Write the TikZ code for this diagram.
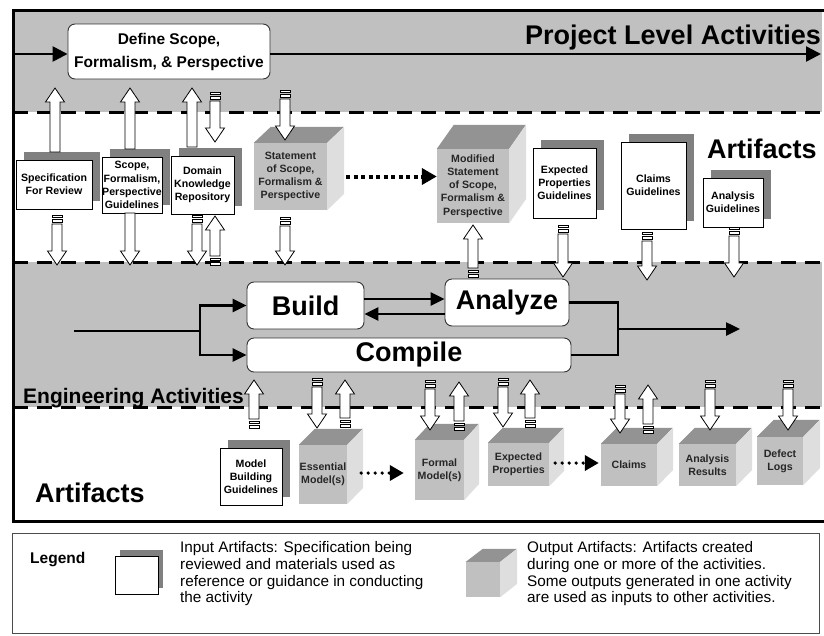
\documentclass[tikz,border=0pt]{standalone}
\usepackage{fontspec}
\setmainfont{Liberation Sans}
\usetikzlibrary{arrows.meta,shadows,calc}
\definecolor{bandgray}{HTML}{C0C0C0}
\definecolor{cubefront}{HTML}{C0C0C0}
\definecolor{cubetop}{HTML}{939393}
\definecolor{cubeside}{HTML}{DEDEDE}
\definecolor{shadowgray}{HTML}{808080}
\newcommand{\artfont}{\fontsize{10.6}{13.2}\selectfont\bfseries}
\newcommand{\bigboldfont}{\fontsize{27}{30}\selectfont\bfseries}
\newcommand{\legfont}{\fontsize{15.3}{16.7}\selectfont}
% cube: name, x1, y1, x2, y2, dx, dy, text
\newcommand{\cubebox}[8]{%
  \node[cubeface, minimum width={(#4-#2)*1pt}, minimum height={(#5-#3)*1pt}] (#1) at ({(#2+#4)/2},{(#3+#5)/2}) {#8};
  \fill[cubetop] (#1.north west) -- ++(#6,-#7) -- ++({#4-#2},0) -- (#1.north east) -- cycle;
  \fill[cubeside] (#1.north east) -- ++(#6,-#7) -- ++(0,{#5-#3}) -- (#1.south east) -- cycle;
}
% input box: name, x1, y1, x2, y2, text, style
\newcommand{\inputbox}[7]{%
  \node[#7, minimum width={(#4-#2)*1pt}, minimum height={(#5-#3)*1pt}] (#1) at ({(#2+#4)/2},{(#3+#5)/2}) {#6};
}
% hollow block arrow: x, tail y, tip y
\newcommand{\barr}[3]{%
  \pgfmathsetmacro{\bsg}{((#3)>(#2))?1:-1}%
  \pgfmathsetmacro{\bhd}{(#3)-14*\bsg}%
  \filldraw[blockarrow] ({#1-5},{#2}) -- ({#1-5},{\bhd}) -- ({#1-9.5},{\bhd}) -- ({#1},{#3}) -- ({#1+9.5},{\bhd}) -- ({#1+5},{\bhd}) -- ({#1+5},{#2}) -- cycle;
}
% striped-tail block arrow: x, tail y, tip y
\newcommand{\sarr}[3]{%
  \pgfmathsetmacro{\ssg}{((#3)>(#2))?1:-1}%
  \filldraw[blockarrow] ({#1-5},{#2}) rectangle ({#1+5},{#2+2.5*\ssg});
  \filldraw[blockarrow] ({#1-5},{#2+4.5*\ssg}) rectangle ({#1+5},{#2+7*\ssg});
  \pgfmathsetmacro{\stl}{#2+9*\ssg}%
  \barr{#1}{\stl}{#3}
}
\tikzset{
  frameline/.style={line width=3pt, line join=miter},
  sepline/.style={line width=3pt, dash pattern=on 15pt off 9pt},
  rbox/.style={draw=black!80, fill=white, rounded corners=7pt, line width=0.9pt, inner sep=0pt, align=center},
  inboxbase/.style={draw=black, fill=white, line width=0.9pt, inner sep=0pt, align=center, font=\artfont},
  inbox/.style={inboxbase, drop shadow={shadow xshift=7.5pt, shadow yshift=8.5pt, fill=shadowgray, opacity=1}},
  inboxsmall/.style={inboxbase, drop shadow={shadow xshift=5pt, shadow yshift=6pt, fill=shadowgray, opacity=1}},
  cubeface/.style={fill=cubefront, inner sep=0pt, align=center, font=\artfont, text=black!85},
  blockarrow/.style={draw=black, fill=white, line width=0.8pt, line join=miter},
  conn/.style={line width=2.5pt, -{Triangle[length=14pt,width=13pt]}},
  plainline/.style={line width=2.5pt},
  sqdots/.style={line width=4pt, dash pattern=on 4pt off 3.5pt, -{Triangle[length=15pt,width=16pt]}},
  rddots/.style={line width=3.6pt, line cap=round, dash pattern=on 0pt off 7pt, -{Triangle[length=14pt,width=15pt]}},
  label/.style={inner sep=0pt, anchor=base west},
  legtext/.style={inner sep=0pt, anchor=north west, align=left, font=\legfont},
}
\begin{document}
\begin{tikzpicture}[x=1pt,y=-1pt]
\useasboundingbox (0,0) rectangle (824,635);
% bands
\fill[bandgray] (13,10) rectangle (822,112);
\fill[bandgray] (13,262) rectangle (822,407);
\draw[sepline] (13,112) -- (822,112);
\draw[sepline] (13,262) -- (822,262);
\draw[sepline] (13,407) -- (822,407);
\draw[frameline] (824,10) -- (13,10) -- (13,521) -- (824,521);
% legend frame
\draw[draw=black!70, line width=0.9pt] (12,533) rectangle (819,633);

% project level
\node[rbox, minimum width=202pt, minimum height=55pt, font=\fontsize{15.5}{23}\selectfont\bfseries] (define) at (169,51.5) {Define Scope,\\Formalism, \& Perspective};
\coordinate (pin) at (13,54);
\coordinate (pout) at (821,54);
\draw[conn, -{Triangle[length=15pt,width=15pt]}] (pin) -- (pin -| define.west);
\draw[conn, -{Triangle[length=15pt,width=15pt]}] (define.east |- pout) -- (pout);

% upper artifacts
\inputbox{spec}{16}{160}{92}{209}{Specification\\For Review}{inbox}
\inputbox{scopeg}{102}{157}{162}{213}{Scope,\\Formalism,\\Perspective\\Guidelines}{inbox}
\inputbox{domain}{171}{156}{234}{214}{Domain\\Knowledge\\Repository}{inbox}
\inputbox{expg}{533}{148}{596}{218}{Expected\\Properties\\Guidelines}{inbox}
\inputbox{claimsg}{621}{142}{686}{229}{Claims\\Guidelines}{inbox}
\inputbox{analysisg}{703}{178}{763}{227}{Analysis\\Guidelines}{inbox}
\cubebox{stmt}{254}{143}{327}{210}{17}{16}{Statement\\of Scope,\\Formalism \&\\Perspective}
\cubebox{mod}{437}{149}{509}{223}{17}{24}{Modified\\Statement\\of Scope,\\Formalism \&\\Perspective}
\draw[sqdots] ([xshift=19pt]stmt.east) -- (stmt.east -| mod.west);

% engineering
\node[rbox, minimum width=117pt, minimum height=47pt, font=\bigboldfont] (build) at (305.5,305.5) {Build};
\node[rbox, minimum width=124pt, minimum height=47pt, font=\bigboldfont] (analyze) at (507,302.5) {Analyze};
\node[rbox, minimum width=324pt, minimum height=34pt, font=\bigboldfont] (compile) at (409,355) {Compile};
\coordinate (ein) at (74,331);
\coordinate (esplit) at (200,331);
\draw[plainline] (ein) -- (esplit);
\draw[conn] (esplit) |- (build.west);
\draw[conn] (esplit) |- (compile.west);
\coordinate (ba) at ([yshift=6.5pt]build.east);
\coordinate (ab) at ([yshift=-11.5pt]analyze.west);
\draw[conn] (ba) -- (ba -| analyze.west);
\draw[conn] (ab) -- (ab -| build.east);
\coordinate (ejoin) at (618,329);
\coordinate (eout) at (740,329);
\draw[plainline, line join=miter] (analyze.east) -| (ejoin) |- (compile.east);
\draw[conn] (ejoin) -- (eout);

% lower artifacts
\inputbox{modelg}{220}{448}{282}{505}{Model\\Building\\Guidelines}{inbox}
\cubebox{ess}{299}{445}{347}{504}{16}{16}{Essential\\Model(s)}
\cubebox{formal}{415}{440}{464}{500}{15}{16}{Formal\\Model(s)}
\cubebox{expp}{488}{443}{549}{486}{15}{15}{Expected\\Properties}
\cubebox{claims}{601}{444}{657}{486}{16}{16}{Claims}
\cubebox{ares}{679}{444}{736}{486}{16}{16}{Analysis\\Results}
\cubebox{defect}{757}{437}{803}{485}{17}{17}{Defect\\Logs}
\coordinate (d1) at ([xshift=14pt,yshift=1.5pt]ess.east);
\draw[rddots, shorten >=11pt] (d1) -- (d1 -| formal.west);
\coordinate (d2) at ([xshift=6pt,yshift=1.5pt]expp.east);
\draw[rddots, shorten >=2pt] (d2) -- (d2 -| claims.west);

% block arrows: project <-> upper artifacts
\barr{55}{152}{88}
\barr{130}{149}{88}
\barr{192}{147}{88}
\sarr{215}{92}{142}
\sarr{285}{90}{140}
% upper artifacts <-> engineering
\sarr{57}{215}{265}
\barr{130}{213}{265}
\sarr{197}{215}{265}
\sarr{215}{265}{216}
\sarr{285}{217}{265}
\sarr{473}{277}{225}
\sarr{563}{225}{277}
\sarr{647}{232}{280}
\sarr{734}{227}{277}
% engineering <-> lower artifacts
\sarr{254}{428}{380}
\sarr{317}{378}{428}
\sarr{345}{427}{380}
\sarr{430}{380}{430}
\sarr{459}{430}{382}
\sarr{503}{378}{427}
\sarr{530}{427}{380}
\sarr{620}{385}{433}
\sarr{648}{433}{385}
\sarr{710}{380}{430}
\sarr{788}{380}{430}

% band labels
\node[label, font=\bigboldfont] (tproj) at (525,44) {Project Level Activities};
\node[label, font=\bigboldfont] (tart1) at (707,158) {Artifacts};
\node[label, font=\fontsize{21}{24}\selectfont\bfseries] (teng) at (23,403) {Engineering Activities};
\node[label, font=\bigboldfont] (tart2) at (35,502) {Artifacts};

% legend
\node[label, font=\fontsize{15.5}{18}\selectfont\bfseries] (tleg) at (30,563) {Legend};
\inputbox{legin}{115}{556}{158}{594}{}{inboxsmall}
\node[legtext] (tin) at (180,541.5) {Input Artifacts: Specification being\\reviewed and materials used as\\reference or guidance in conducting\\the activity};
\cubebox{legcube}{466}{562}{500}{597}{17}{13}{}
\node[legtext] (tout) at (527,541.5) {Output Artifacts: Artifacts created\\during one or more of the activities.\\Some outputs generated in one activity\\are used as inputs to other activities.};
\end{tikzpicture}
\end{document}
